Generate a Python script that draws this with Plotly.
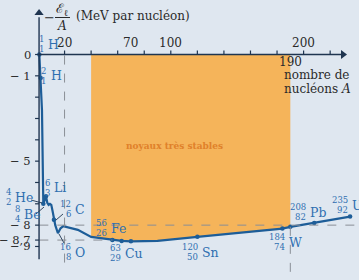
import plotly.graph_objects as go

# ---------------- data ----------------
A_curve = [1, 2, 3, 4, 5, 6, 7, 8, 9, 10, 11, 12, 13, 15, 17, 19, 22, 30, 40,
           56, 63, 70, 90, 120, 150, 184, 190, 208, 235]
E_curve = [0, -1.1, -2.6, -7.0, -6.8, -6.65, -6.95, -7.05, -7.0, -7.05, -7.35, -7.75, -8.0,
           -8.38, -8.15, -8.05, -8.1, -8.22, -8.55, -8.7, -8.74, -8.76, -8.74, -8.55,
           -8.38, -8.16, -8.08, -7.9, -7.6]
marker_A = [1, 2, 4, 6, 12, 56, 63, 70, 120, 184, 190, 208, 235]
stable_A = [40, 190]
x_ticks = [20, 40, 60, 80, 100, 120, 140, 160, 180, 200, 220]
x_labels_at = [20, 70, 100, 200]
y_ticks = [0, -1, -2, -3, -4, -5, -6, -7, -8, -8.7, -9]
y_label_vals = [0, -1, -5, -8, -8.7, -9]
y_label_txt = ["0", "− 1", "− 5", "− 8", "− 8,7", "− 9"]
nuclides = [  # symbol, mass number, Z
    ("H", "1", "1"), ("H", "2", "1"), ("He", "4", "2"), ("Be", "8", "4"),
    ("Li", "6", "3"), ("C", "12", "6"), ("O", "16", "8"), ("Fe", "56", "26"),
    ("Cu", "63", "29"), ("Sn", "120", "50"), ("W", "184", "74"),
    ("Pb", "208", "82"), ("U", "235", "92"),
]

# ---------------- style / layout ----------------
W, H = 359, 280
BG = "#dfe7f0"
ORANGE = "#f5b45a"
CURVE = "#1d5d98"
AXIS = "#1f3550"
TXT = "#2a2a2a"
NUC = "#2f6fb0"
SERIF = "DejaVu Serif"

X0, XS = 38.0, 1.328      # px = X0 + XS*A
Y0, YS = 54.5, 21.33      # px = Y0 - YS*E
xr = [(0 - X0) / XS, (W - X0) / XS]
yr = [(Y0 - H) / YS, (Y0 - 0) / YS]

def px(x, y):
    return x / W, 1 - y / H

E_of = dict(zip(A_curve, E_curve))

fig = go.Figure()

# stable region (orange) bounded by the curve
sA = [a for a in A_curve if stable_A[0] <= a <= stable_A[1]]
fig.add_trace(go.Scatter(
    x=[stable_A[0]] + sA + [stable_A[1]],
    y=[0] + [E_of[a] for a in sA] + [0],
    fill="toself", fillcolor=ORANGE, mode="lines", line=dict(width=0),
    hoverinfo="skip", showlegend=False))

# curve
fig.add_trace(go.Scatter(x=A_curve, y=E_curve, mode="lines",
                         line=dict(color=CURVE, width=2.2), showlegend=False))
fig.add_trace(go.Scatter(x=marker_A, y=[E_of[a] for a in marker_A], mode="markers",
                         marker=dict(color=CURVE, size=4.5), showlegend=False))

shapes = []
ann = []
dash = dict(color="#8a8f96", width=1, dash="dash")

# dashed guides
shapes.append(dict(type="line", xref="x", yref="y", x0=1, x1=xr[1], y0=-8, y1=-8, line=dash, layer="above"))
shapes.append(dict(type="line", xref="x", yref="y", x0=1, x1=56, y0=-8.7, y1=-8.7, line=dash, layer="above"))
shapes.append(dict(type="line", xref="x", yref="y", x0=20, x1=20, y0=-0.05, y1=-9.9, line=dash, layer="above"))
shapes.append(dict(type="line", xref="x", yref="y", x0=190, x1=190, y0=-8.08, y1=-10.2, line=dash, layer="above"))

# axes (lines + arrowheads)
yax_A = 0.8
y_top = (Y0 - 13) / YS
x_end = (347 - X0) / XS
shapes.append(dict(type="line", xref="x", yref="y", x0=yax_A, x1=yax_A, y0=-9.6, y1=y_top - 0.2,
                   line=dict(color=AXIS, width=1.4), layer="above"))
shapes.append(dict(type="line", xref="x", yref="y", x0=yax_A, x1=x_end - 4, y0=0, y1=0,
                   line=dict(color=AXIS, width=1.4), layer="above"))
fig.add_trace(go.Scatter(x=[yax_A], y=[y_top], mode="markers", showlegend=False,
                         marker=dict(symbol="triangle-up", size=8, color=AXIS)))
fig.add_trace(go.Scatter(x=[x_end - 3], y=[0], mode="markers", showlegend=False,
                         marker=dict(symbol="triangle-right", size=8, color=AXIS)))
tick_len_px = 4
for t in x_ticks:
    shapes.append(dict(type="line", xref="x", yref="y", x0=t, x1=t, y0=0,
                       y1=tick_len_px / YS, line=dict(color=AXIS, width=1.2), layer="above"))
for t in y_ticks:
    shapes.append(dict(type="line", xref="x", yref="y", x0=yax_A - 4 / XS, x1=yax_A, y0=t,
                       y1=t, line=dict(color=AXIS, width=1.2), layer="above"))

for v in x_labels_at:
    ann.append(dict(x=v, y=(Y0 - 43) / YS, xref="x", yref="y", text=str(v), showarrow=False,
                    font=dict(family=SERIF, size=12, color=TXT), xanchor="center", yanchor="middle"))
for v, t in zip(y_label_vals, y_label_txt):
    ann.append(dict(x=(33 - X0) / XS, y=v, xref="x", yref="y", text=t, showarrow=False,
                    font=dict(family=SERIF, size=11.5, color=TXT), xanchor="right", yanchor="middle"))

# 190 and axis name
ann.append(dict(x=190, y=(Y0 - 62) / YS, xref="x", yref="y", text="190", showarrow=False,
                font=dict(family=SERIF, size=12, color=TXT), xanchor="center", yanchor="middle"))

def put(xp, yp, text, size=12, color=TXT, xa="center", family=SERIF):
    x, y = px(xp, yp)
    ann.append(dict(x=x, y=y, xref="paper", yref="paper", text=text, showarrow=False,
                    font=dict(family=family, size=size, color=color), xanchor=xa, yanchor="middle"))

put(282, 75, "nombre de", 12, xa="left")
put(282, 89, "nucléons <i>A</i>", 12, xa="left")

# y axis title:  − E_l / A (MeV par nucléon)
put(49, 17, "−", 13)
put(62, 9, "ℰ<sub>ℓ</sub>", 13)
put(62, 26, "<i>A</i>", 12)
x0p, y0p = px(55, 17.5)
x1p, _ = px(70, 17.5)
shapes.append(dict(type="line", xref="paper", yref="paper", x0=x0p, x1=x1p, y0=y0p, y1=y0p,
                   line=dict(color=TXT, width=1)))
put(74, 16, "(MeV par nucléon)", 12, xa="left")

# nuclide labels: left x of symbol, y middle
nuc_pos = [(46, 44), (49, 76), (13, 197), (22, 214), (52, 188), (73, 209), (73, 252),
           (109, 228), (123, 253), (200, 252), (287, 242), (308, 212), (350, 205)]
for (sym, m, z), (xl, ym) in zip(nuclides, nuc_pos):
    put(xl, ym, sym, 12.5, NUC, xa="left")
    put(xl - 0.5, ym - 5, m, 8.5, NUC, xa="right")
    put(xl - 0.5, ym + 4.5, z, 8.5, NUC, xa="right")

# pointer lines
for (xa_, ya_, xb, yb) in [(31, 200, 42, 203), (36, 214, 44, 207), (63, 214, 56, 220), (64, 243, 59, 234)]:
    a, b = px(xa_, ya_)
    c, d = px(xb, yb)
    shapes.append(dict(type="line", xref="paper", yref="paper", x0=a, y0=b, x1=c, y1=d,
                       line=dict(color=AXIS, width=0.9)))

put(174, 146, "<b>noyaux très stables</b>", 9, "#e0812a")

fig.update_layout(
    width=W, height=H, margin=dict(l=0, r=0, t=0, b=0),
    paper_bgcolor=BG, plot_bgcolor=BG, showlegend=False,
    xaxis=dict(range=xr, visible=False, fixedrange=True),
    yaxis=dict(range=yr, visible=False, fixedrange=True),
    shapes=shapes, annotations=ann,
)
fig.write_html("out.html")
